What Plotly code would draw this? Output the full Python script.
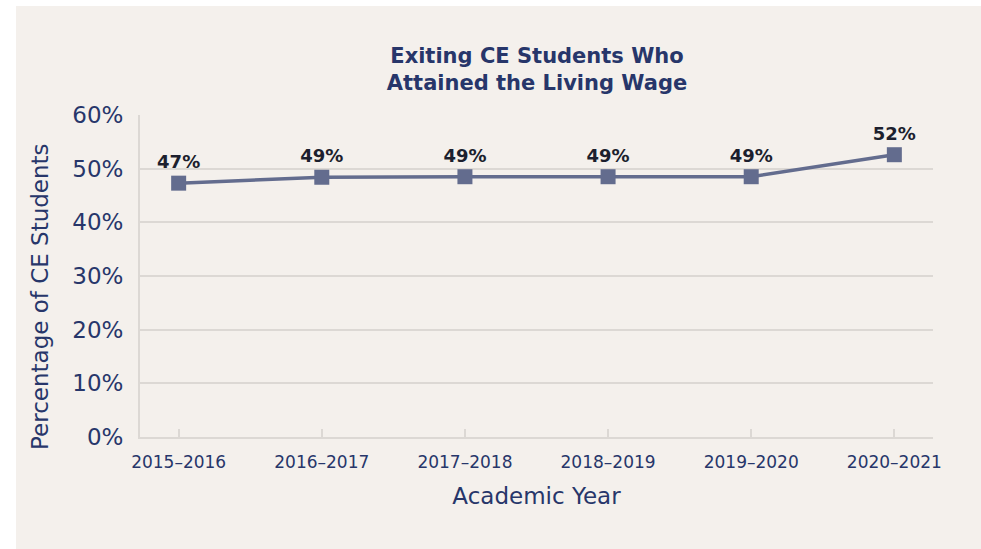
import plotly.graph_objects as go

years = ["2015–2016", "2016–2017", "2017–2018", "2018–2019", "2019–2020", "2020–2021"]
values = [47.3, 48.4, 48.5, 48.5, 48.5, 52.6]
labels = ["47%", "49%", "49%", "49%", "49%", "52%"]
y_ticks = [0, 10, 20, 30, 40, 50, 60]
y_tick_text = ["0%", "10%", "20%", "30%", "40%", "50%", "60%"]

NAVY = "#27366a"
LINE = "#636c8e"
BEIGE = "#f4f0ec"
GRID = "#dcd8d4"
FONT = "DejaVu Sans"

fig = go.Figure()
fig.add_trace(go.Scatter(
    x=years, y=values, mode="lines+markers+text",
    line=dict(color=LINE, width=3.5),
    marker=dict(symbol="square", size=15, color=LINE),
    text=labels, textposition="top center",
    textfont=dict(family=FONT, size=18, color="#1c1f2e", weight="bold"),
    cliponaxis=False, hoverinfo="skip",
))

# beige card background
fig.add_shape(type="rect", xref="paper", yref="paper",
              x0=(16 - 140) / 793, x1=1.2, y0=-0.5, y1=(437 - 6) / 322,
              fillcolor=BEIGE, line=dict(width=0), layer="below")

W, H = 981, 549
fig.update_layout(
    width=W, height=H,
    margin=dict(l=140, r=48, t=115, b=112),
    paper_bgcolor="white", plot_bgcolor="rgba(0,0,0,0)",
    showlegend=False,
    font=dict(family=FONT, color=NAVY),
    title=dict(
        text="<b>Exiting CE Students Who<br>Attained the Living Wage</b>",
        x=537 / W, xanchor="center", y=1 - 63 / H, yanchor="top",
        font=dict(family=FONT, size=21, color=NAVY),
    ),
    xaxis=dict(
        type="category", range=[-0.27, 5.27],
        showgrid=False, showline=True, linecolor=GRID, linewidth=2,
        ticks="inside", ticklen=8, tickcolor=GRID, tickwidth=2,
        ticklabelstandoff=9,
        tickfont=dict(family=FONT, size=17, color=NAVY),
        title=dict(text="Academic Year", font=dict(family=FONT, size=23, color=NAVY), standoff=16),
        fixedrange=True,
    ),
    yaxis=dict(
        range=[0, 60], tickvals=y_ticks, ticktext=y_tick_text,
        showgrid=True, gridcolor=GRID, gridwidth=1.5,
        showline=True, linecolor=GRID, linewidth=2, zeroline=False,
        ticks="", ticklabelstandoff=10,
        tickfont=dict(family=FONT, size=23, color=NAVY),
        fixedrange=True,
    ),
    annotations=[dict(
        text="Percentage of CE Students", textangle=-90,
        xref="paper", yref="paper",
        x=(40 - 140) / 793, y=(437 - 297) / 322,
        xanchor="center", yanchor="middle", showarrow=False,
        font=dict(family=FONT, size=23, color=NAVY),
    )],
)

fig.write_html("out.html", config={"displayModeBar": False},
               post_script="document.body.style.margin='0';")
